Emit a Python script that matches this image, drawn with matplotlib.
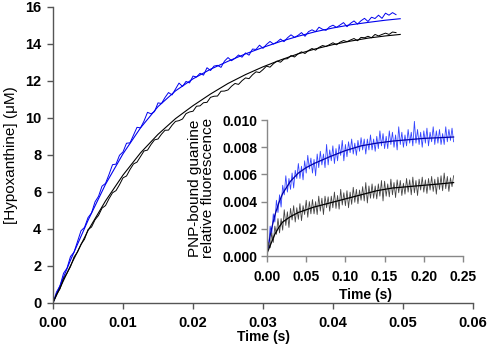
import numpy as np
import matplotlib
matplotlib.use('Agg')
import matplotlib.pyplot as plt

plt.rcParams['font.family'] = ['Liberation Sans', 'DejaVu Sans']

# main panel: [Hypoxanthine] (uM), one reading every 0.5 ms
MAIN_STEP = 0.0005
blue_main = [0, 0.58, 0.91, 1.59, 1.87, 2.5, 2.73, 3.31, 3.89, 4.07,
             4.6, 4.85, 5.45, 5.75, 6.3, 6.45, 6.93, 7.46, 7.49, 7.97,
             8.15, 8.62, 8.64, 9.06, 9.48, 9.45, 9.82, 10.29, 10.21, 10.33,
             10.8, 10.77, 11.09, 11.36, 11.23, 11.55, 11.87, 11.69, 11.96, 11.88,
             12.25, 12.2, 12.4, 12.3, 12.7, 12.55, 12.79, 12.83, 12.72, 13.06,
             13.25, 13.08, 13.21, 13.39, 13.27, 13.5, 13.38, 13.71, 13.69, 13.92,
             13.75, 13.96, 14.12, 13.98, 14.09, 14.25, 14.11, 14.32, 14.48, 14.34,
             14.45, 14.6, 14.4, 14.65, 14.75, 14.65, 14.89, 14.78, 14.72, 14.91,
             15.0, 14.88, 15.01, 15.14, 14.92, 15.1, 15.23, 15.06, 15.24, 15.37,
             15.2, 15.43, 15.36, 15.54, 15.37, 15.65, 15.54, 15.68, 15.57]
black_main = [0, 0.45, 0.75, 1.3, 1.6, 1.95, 2.47, 2.74, 3.16, 3.43,
              3.95, 4.09, 4.48, 4.72, 5.11, 5.25, 5.62, 5.94, 6.06, 6.38,
              6.75, 6.85, 7.2, 7.5, 7.6, 7.9, 8.2, 8.25, 8.55, 8.8,
              8.85, 9.11, 9.32, 9.33, 9.59, 9.8, 9.84, 9.93, 10.22, 10.31,
              10.35, 10.62, 10.64, 10.81, 10.83, 11.1, 11.16, 11.17, 11.43, 11.44,
              11.5, 11.7, 11.85, 11.8, 12.0, 12.15, 12.11, 12.32, 12.48, 12.44,
              12.6, 12.79, 12.73, 12.92, 13.06, 13.0, 13.17, 13.19, 13.36, 13.28,
              13.45, 13.56, 13.47, 13.63, 13.74, 13.65, 13.8, 13.9, 13.85, 13.95,
              14.05, 13.94, 14.08, 14.17, 14.11, 14.2, 14.28, 14.16, 14.34, 14.32,
              14.4, 14.32, 14.5, 14.42, 14.5, 14.57, 14.5, 14.63, 14.6]

fit_t = [0, 0.0025, 0.005, 0.0075, 0.01, 0.0125, 0.015, 0.0175, 0.02, 0.0225,
         0.025, 0.0275, 0.03, 0.0325, 0.035, 0.0375, 0.04, 0.0425, 0.045, 0.0475, 0.0496]
blue_fit = [0, 2.3, 4.45, 6.4, 8.05, 9.45, 10.6, 11.45, 12.1, 12.62,
            13.05, 13.45, 13.8, 14.12, 14.4, 14.65, 14.85, 15.02, 15.15, 15.27, 15.35]
black_fit = [0, 2.0, 3.9, 5.5, 6.9, 8.1, 9.1, 9.95, 10.65, 11.28,
             11.85, 12.33, 12.75, 13.12, 13.45, 13.72, 13.95, 14.14, 14.3, 14.42, 14.5]

# inset: PNP-bound guanine relative fluorescence (x 1e-3), one reading every 2 ms
INSET_STEP = 0.002
blue_inset = [0.6, 0.6, 2.2, 1.6, 3.1, 2.5, 4.1, 3.2, 4.5, 3.6,
              5.2, 4.5, 5.9, 4.7, 5.7, 4.9, 6.1, 5.0, 6.3, 5.7,
              6.8, 5.7, 6.6, 5.6, 7.0, 6.1, 7.4, 6.4, 7.2, 6.1,
              7.1, 5.9, 7.5, 6.5, 7.7, 6.7, 7.5, 6.5, 8.2, 6.7,
              7.8, 7.0, 8.1, 6.8, 7.9, 7.0, 8.2, 7.4, 8.5, 7.0,
              8.2, 7.3, 8.4, 7.6, 8.6, 7.5, 8.3, 7.4, 8.5, 7.7,
              8.7, 7.8, 8.6, 7.5, 8.6, 7.8, 8.9, 7.8, 8.6, 7.7,
              8.8, 7.9, 9.2, 8.1, 9.0, 7.9, 8.8, 7.9, 9.2, 8.2,
              9.1, 8.0, 8.9, 7.8, 9.5, 8.2, 9.1, 8.0, 8.9, 8.1,
              9.3, 8.3, 9.1, 8.1, 9.9, 8.3, 9.3, 8.2, 9.1, 8.0,
              9.2, 8.3, 9.4, 8.1, 9.1, 8.4, 9.5, 8.2, 9.2, 8.3,
              9.3, 8.2, 9.0, 8.2, 9.5, 8.4, 9.3, 8.5, 9.4, 8.4]
black_inset = [0.1, 1.0, 0.6, 1.7, 1.0, 2.2, 1.6, 2.75, 1.7, 2.75,
               1.9, 3.4, 2.25, 3.25, 2.1, 3.5, 2.65, 3.7, 2.5, 3.55,
               2.7, 3.85, 2.6, 3.7, 3.05, 4.1, 2.85, 4.0, 3.1, 4.15,
               3.1, 4.0, 3.05, 4.4, 3.3, 4.25, 3.05, 4.4, 3.55, 4.35,
               3.3, 4.4, 3.55, 4.7, 3.5, 4.45, 3.45, 4.9, 3.75, 4.65,
               3.7, 4.8, 3.55, 4.7, 3.8, 5.05, 3.95, 4.9, 3.85, 4.85,
               4.1, 5.1, 4.05, 5.4, 3.9, 5.15, 4.25, 5.3, 4.25, 5.15,
               4.2, 5.3, 4.4, 5.55, 4.05, 5.5, 4.4, 5.3, 4.35, 5.65,
               4.5, 5.4, 4.3, 5.6, 4.65, 5.55, 4.45, 5.35, 4.55, 5.7,
               4.7, 5.6, 4.5, 5.8, 4.65, 5.55, 4.45, 5.65, 4.85, 5.8,
               4.7, 5.6, 4.6, 5.7, 4.85, 5.85, 4.75, 5.65, 4.55, 5.8,
               4.9, 5.9, 4.8, 6.1, 4.95, 5.85, 4.75, 5.75, 5.1, 5.9]

inset_fit_t = [0, 0.005, 0.01, 0.015, 0.02, 0.03, 0.04, 0.05, 0.06,
               0.08, 0.10, 0.12, 0.14, 0.16, 0.18, 0.20, 0.22, 0.238]
blue_inset_fit = [0.2, 1.8, 3.0, 3.9, 4.6, 5.5, 6.1, 6.5, 6.8,
                  7.3, 7.75, 8.1, 8.3, 8.45, 8.55, 8.65, 8.7, 8.75]
black_inset_fit = [0.2, 0.9, 1.6, 2.1, 2.5, 2.9, 3.2, 3.4, 3.6,
                   3.9, 4.2, 4.5, 4.8, 5.0, 5.1, 5.2, 5.3, 5.4]

BLUE = '#0000ee'


def style_axes(ax, spine_col, size, xpad, ypad):
    for s in ['top', 'right']:
        ax.spines[s].set_visible(False)
    for s in ['left', 'bottom']:
        ax.spines[s].set_color(spine_col)
        ax.spines[s].set_linewidth(1.0)
    ax.tick_params(direction='out', length=4, width=1, color=spine_col,
                   labelsize=size)
    ax.tick_params(axis='x', pad=xpad)
    ax.tick_params(axis='y', pad=ypad)
    plt.setp(ax.get_xticklabels() + ax.get_yticklabels(), fontweight='bold')


fig = plt.figure(figsize=(4.9, 3.54), dpi=100)

# ---- main panel
ax = fig.add_axes([0.1082, 0.1449, 0.8571, 0.8362])
t_main = np.arange(len(blue_main)) * MAIN_STEP
ax.plot(t_main, blue_main, color=BLUE, lw=0.7)
ax.plot(fit_t, blue_fit, color=BLUE, lw=0.8)
ax.plot(t_main, black_main, color='black', lw=0.7)
ax.plot(fit_t, black_fit, color='black', lw=0.8)
ax.set_xlim(0, 0.06)
ax.set_ylim(0, 16)
ax.set_xticks([0, 0.01, 0.02, 0.03, 0.04, 0.05, 0.06])
ax.set_xticklabels(['0.00', '0.01', '0.02', '0.03', '0.04', '0.05', '0.06'])
ax.set_yticks(range(0, 17, 2))
ax.set_yticklabels([str(v) for v in range(0, 17, 2)])
style_axes(ax, '#555555', 10.5, 5.5, 4.5)
ax.set_xlabel('Time (s)', fontsize=10, fontweight='bold', labelpad=0)
ax.set_ylabel('[Hypoxanthine] (\u03bcM)', fontsize=11, labelpad=5)

# ---- inset
ins = fig.add_axes([0.5449, 0.2768, 0.4, 0.3842])
ins.patch.set_alpha(0)
t_ins = np.arange(len(blue_inset)) * INSET_STEP
ins.plot(t_ins, np.array(blue_inset) * 1e-3, color='#3344ff', lw=0.6)
ins.plot(inset_fit_t, np.array(blue_inset_fit) * 1e-3, color='#0000aa', lw=0.9)
ins.plot(t_ins, np.array(black_inset) * 1e-3, color='#444444', lw=0.6)
ins.plot(inset_fit_t, np.array(black_inset_fit) * 1e-3, color='black', lw=0.9)
ins.set_xlim(0, 0.25)
ins.set_ylim(0, 0.010)
ins.set_xticks([0, 0.05, 0.10, 0.15, 0.20, 0.25])
ins.set_xticklabels(['0.00', '0.05', '0.10', '0.15', '0.20', '0.25'])
ins.set_yticks([0, 0.002, 0.004, 0.006, 0.008, 0.010])
ins.set_yticklabels(['0.000', '0.002', '0.004', '0.006', '0.008', '0.010'])
style_axes(ins, '#888888', 10, 6, 3)
ins.set_xlabel('Time (s)', fontsize=10, fontweight='bold', labelpad=3)
ins.set_ylabel('PNP-bound guanine\nrelative fluorescence', fontsize=11,
               labelpad=5, linespacing=0.95)

fig.savefig('out.png', dpi=100)
